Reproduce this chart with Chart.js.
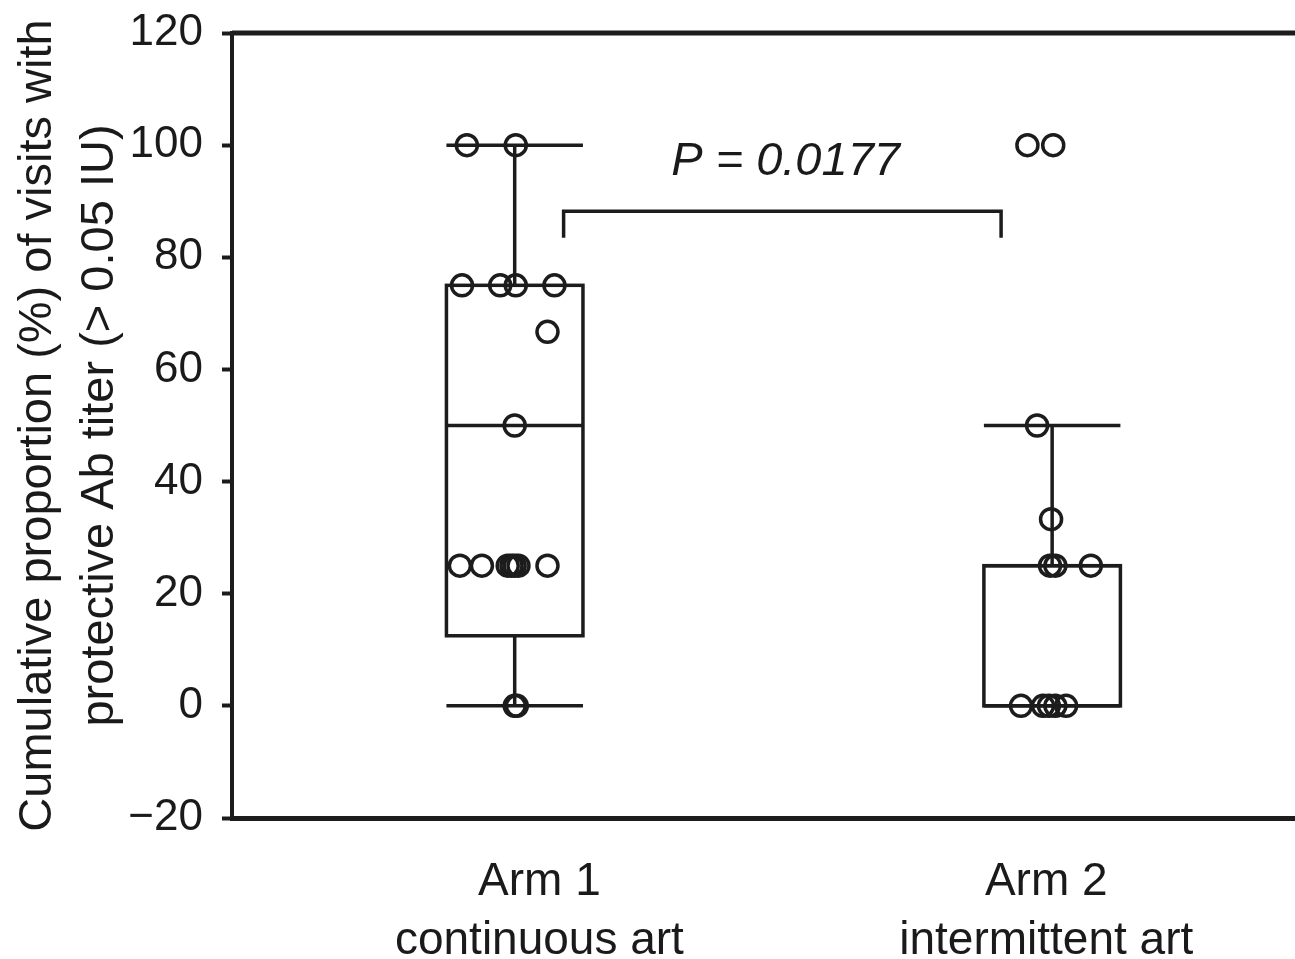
<!DOCTYPE html>
<html>
<head>
<meta charset="utf-8">
<script src="https://cdn.jsdelivr.net/npm/chart.js@4/dist/chart.umd.min.js"></script>
<style>
    html, body { margin: 0; padding: 0; background: #fff; overflow: hidden; }
    canvas { display: block; }
</style>
</head>
<body>
<canvas id="grafica" width="1308" height="959"></canvas>
<script>
// categories and group positions on the x scale
var categorias = [["Arm 1", "continuous art"], ["Arm 2", "intermittent art"]];
var grupos = [1, 2];

// box plot summary, per arm
var cuartil1 = [12.5, 0];
var cuartil3 = [75, 25];
var mediana = [50, 25];
var bigoteMin = [0, 0];
var bigoteMax = [100, 50];

// individual proportions (%)
var valoresArm1 = [100, 100, 75, 75, 75, 75, 66.7, 50, 25, 25, 25, 25, 25, 25, 25, 0, 0];
var valoresArm2 = [100, 100, 50, 33.3, 25, 25, 25, 0, 0, 0, 0, 0];

// horizontal scatter of the points (x units, layout only)
var jitterArm1 = [-0.089, 0.002, -0.098, -0.027, 0.002, 0.074, 0.061, 0, -0.102, -0.061, -0.013, -0.006, 0, 0.007, 0.061, 0, 0.004];
var jitterArm2 = [-0.046, 0.002, -0.028, -0.002, -0.004, 0.006, 0.072, -0.058, -0.017, -0.006, 0.006, 0.026];

var ticksY = [-20, 0, 20, 40, 60, 80, 100, 120];
var textoP = "P = 0.0177";

var tinta = "#1c1c1c";
var fuente = "'Liberation Sans', Arial, Helvetica, sans-serif";

function puntos(valores, jitter, g) {
    return valores.map(function (v, i) {
        return { x: g + jitter[i], y: v };
    });
}

var medioAncho = 0.127;

// draws boxes, whiskers, top frame line
var cajas = {
    id: "cajas",
    beforeDatasetsDraw: function (chart) {
        var ctx = chart.ctx;
        var x = chart.scales.x, y = chart.scales.y;
        var area = chart.chartArea;
        ctx.save();
        ctx.strokeStyle = tinta;
        ctx.lineCap = "butt";

        ctx.lineWidth = 5;
        ctx.beginPath();
        ctx.moveTo(area.left, area.top);
        ctx.lineTo(chart.width, area.top);
        ctx.stroke();

        ctx.lineWidth = 3.5;
        grupos.forEach(function (g, i) {
            var xl = x.getPixelForValue(g - medioAncho);
            var xr = x.getPixelForValue(g + medioAncho);
            var xc = x.getPixelForValue(g);
            var yq1 = y.getPixelForValue(cuartil1[i]);
            var yq3 = y.getPixelForValue(cuartil3[i]);
            var ymed = y.getPixelForValue(mediana[i]);
            var ylo = y.getPixelForValue(bigoteMin[i]);
            var yhi = y.getPixelForValue(bigoteMax[i]);

            ctx.strokeRect(xl, yq3, xr - xl, yq1 - yq3);
            ctx.beginPath();
            ctx.moveTo(xl, ymed); ctx.lineTo(xr, ymed);
            ctx.moveTo(xc, yq3); ctx.lineTo(xc, yhi);
            ctx.moveTo(xc, yq1); ctx.lineTo(xc, ylo);
            ctx.moveTo(xl, yhi); ctx.lineTo(xr, yhi);
            ctx.moveTo(xl, ylo); ctx.lineTo(xr, ylo);
            ctx.stroke();
        });
        ctx.restore();
    },
    afterDatasetsDraw: function (chart) {
        var ctx = chart.ctx;
        var x = chart.scales.x, y = chart.scales.y;
        ctx.save();
        ctx.strokeStyle = tinta;
        ctx.lineWidth = 3.5;
        ctx.beginPath();
        ctx.moveTo(x.getPixelForValue(1.091), y.getPixelForValue(83.5));
        ctx.lineTo(x.getPixelForValue(1.091), y.getPixelForValue(88.2));
        ctx.lineTo(x.getPixelForValue(1.905), y.getPixelForValue(88.2));
        ctx.lineTo(x.getPixelForValue(1.905), y.getPixelForValue(83.5));
        ctx.stroke();

        ctx.fillStyle = "#1a1a1a";
        ctx.font = "italic 47px " + fuente;
        ctx.textAlign = "center";
        ctx.textBaseline = "alphabetic";
        ctx.fillText(textoP, x.getPixelForValue(1.504), y.getPixelForValue(94.6));
        ctx.restore();
    }
};

var estiloPunto = {
    type: "scatter",
    pointRadius: 10.5,
    pointHoverRadius: 10.5,
    pointBorderWidth: 3.5,
    pointBackgroundColor: "rgba(0,0,0,0)",
    pointBorderColor: tinta,
    showLine: false
};

var grafica = new Chart(document.getElementById("grafica"), {
    type: "scatter",
    data: {
        datasets: [
            Object.assign({ label: "Arm 1", data: puntos(valoresArm1, jitterArm1, grupos[0]) }, estiloPunto),
            Object.assign({ label: "Arm 2", data: puntos(valoresArm2, jitterArm2, grupos[1]) }, estiloPunto)
        ]
    },
    options: {
        responsive: false,
        animation: false,
        layout: { padding: { top: 33, right: 0, bottom: 0, left: 0 } },
        plugins: {
            legend: { display: false },
            tooltip: { enabled: false }
        },
        scales: {
            x: {
                type: "linear",
                min: 0.474,
                max: 2.45,
                afterBuildTicks: function (scale) {
                    scale.ticks = [{ value: 1.046 }, { value: 1.989 }];
                },
                afterFit: function (scale) {
                    scale.height = 141;
                    scale.paddingLeft = 0;
                    scale.paddingRight = 0;
                },
                grid: { display: false },
                border: { display: true, color: tinta, width: 5 },
                ticks: {
                    autoSkip: false,
                    maxRotation: 0,
                    padding: 27,
                    color: "#1a1a1a",
                    font: { family: fuente, size: 46, lineHeight: 1.28 },
                    callback: function (v, i) { return categorias[i]; }
                }
            },
            y: {
                min: -20,
                max: 120,
                afterBuildTicks: function (scale) {
                    scale.ticks = ticksY.map(function (v) { return { value: v }; });
                },
                afterFit: function (scale) {
                    scale.width = 232;
                    scale.paddingTop = 0;
                    scale.paddingBottom = 0;
                },
                grid: {
                    display: true,
                    drawOnChartArea: false,
                    drawTicks: true,
                    tickLength: 10,
                    tickWidth: 4,
                    tickColor: tinta
                },
                border: { display: true, color: tinta, width: 4 },
                ticks: {
                    padding: 19,
                    color: "#1a1a1a",
                    font: { family: fuente, size: 44 },
                    callback: function (v) { return String(v).replace("-", "\u2212"); }
                },
                title: {
                    display: true,
                    text: ["Cumulative proportion (%) of visits with", "protective Ab titer (> 0.05 IU)"],
                    color: "#1a1a1a",
                    padding: { top: 7, bottom: 0 },
                    font: { family: fuente, size: 47, lineHeight: 1.32 }
                }
            }
        }
    },
    plugins: [cajas]
});
</script>
</body>
</html>
